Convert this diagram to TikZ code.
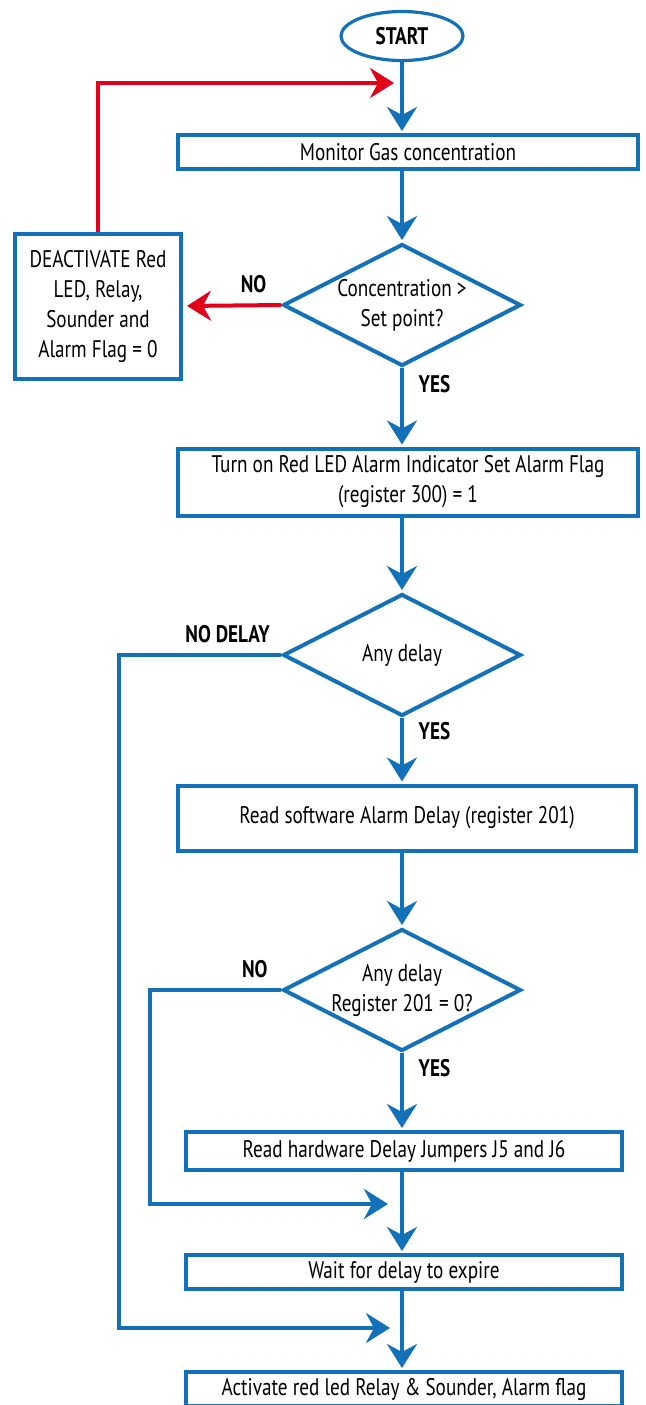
\documentclass[tikz,border=0pt]{standalone}
\usepackage{fontspec}
\setmainfont{PT Sans}[FakeStretch=0.8]
\usetikzlibrary{arrows.meta,positioning,shapes.geometric}
\definecolor{flowblue}{RGB}{18,113,184}
\definecolor{flowred}{RGB}{226,0,26}
\newcommand{\flowfont}{\fontsize{12}{15}\selectfont}
\tikzset{
>={Stealth[length=12pt,width=15pt,inset=4pt]},
  line/.style={draw=flowblue, line width=2pt, ->, shorten >=1pt},
  backline/.style={draw=flowred, line width=2pt, ->, shorten >=2pt},
}

\begin{document}
\begin{tikzpicture}[x=0.5pt, y=-0.5pt]
  \tikzset{
      startstop/.style={ellipse, draw=flowblue, line width=1.6pt, inner sep=0pt, minimum width=61pt, minimum height=24.5pt, font=\flowfont\bfseries},
      action/.style={rectangle, draw=flowblue, line width=2pt, inner sep=0pt, text centered, align=center, font=\flowfont},
      condition/.style={diamond, aspect=2, draw=flowblue, line width=2pt, inner sep=-6pt, minimum width=119pt, minimum height=61pt, align=center, font=\flowfont},
      answer/.style={font=\flowfont\bfseries},
  }
  \useasboundingbox (0,0) rectangle (646,1405);

  \node[startstop] (start) at (402,36) {START};
  \node[action, minimum width=230pt, minimum height=17pt] (monitor) at (408,152) {Monitor Gas concentration};
  \node[condition] (conc) at (402,305) {Concentration >\\Set point?};
  \node[action, minimum width=83pt, minimum height=72.5pt] (deact) at (98,306) {DEACTIVATE Red\\LED, Relay,\\Sounder and\\Alarm Flag = 0};
  \node[action, minimum width=230pt, minimum height=33.5pt] (turnon) at (408,482) {Turn on Red LED Alarm Indicator Set Alarm Flag\\(register 300) = 1};
  \node[condition] (delay) at (402,655) {Any delay};
  \node[action, minimum width=229pt, minimum height=32.5pt] (readsw) at (407,818) {Read software Alarm Delay (register 201)};
  \node[condition] (delayreg) at (402,990) {Any delay\\Register 201 = 0?};
  \node[action, minimum width=218pt, minimum height=19pt] (readhw) at (404,1151) {Read hardware Delay Jumpers J5 and J6};
  \node[action, minimum width=218pt, minimum height=17pt] (wait) at (404,1272) {Wait for delay to expire};
  \node[action, minimum width=218pt, minimum height=17pt] (activate) at (404,1389) {Activate red led Relay \& Sounder, Alarm flag};

  \coordinate (back) at (402,83);
  \coordinate (noreg) at (150,1204);
  \coordinate (join1) at (402,1204);
  \coordinate (nodelay) at (119,1328);
  \coordinate (join2) at (402,1328);

  \path[line] (start) -- (start |- monitor.north);
  \path[line] (monitor.south -| conc) -- (conc);
  \path[line] (conc) -- node[answer, right=4pt, pos=0.2] {YES} (conc |- turnon.north);
  \path[line] (turnon.south -| delay) -- (delay);
  \path[line] (delay) -- node[answer, right=4pt, pos=0.2] {YES} (delay |- readsw.north);
  \path[line] (readsw.south -| delayreg) -- (delayreg);
  \path[line] (delayreg) -- node[answer, right=4pt, pos=0.2] {YES} (delayreg |- readhw.north);
  \path[line] (readhw.south -| delayreg) -- (delayreg |- wait.north);
  \path[line] (wait.south -| delayreg) -- (delayreg |- activate.north);

  \path[backline] (conc.west) -- node[answer, above=2pt, pos=0.28] {NO} (deact.east);
  \path[backline, shorten >=4pt] (deact.north) |- (back);

  \path[line, shorten >=6pt] (delay.west) -- node[answer, above=2pt, pos=0.33] {NO DELAY} (delay.west -| nodelay) -- (nodelay) -- (join2);
  \path[line, shorten >=7pt] (delayreg.west) -- node[answer, above=2pt, pos=0.2] {NO} (delayreg.west -| noreg) -- (noreg) -- (join1);
\end{tikzpicture}
\end{document}
